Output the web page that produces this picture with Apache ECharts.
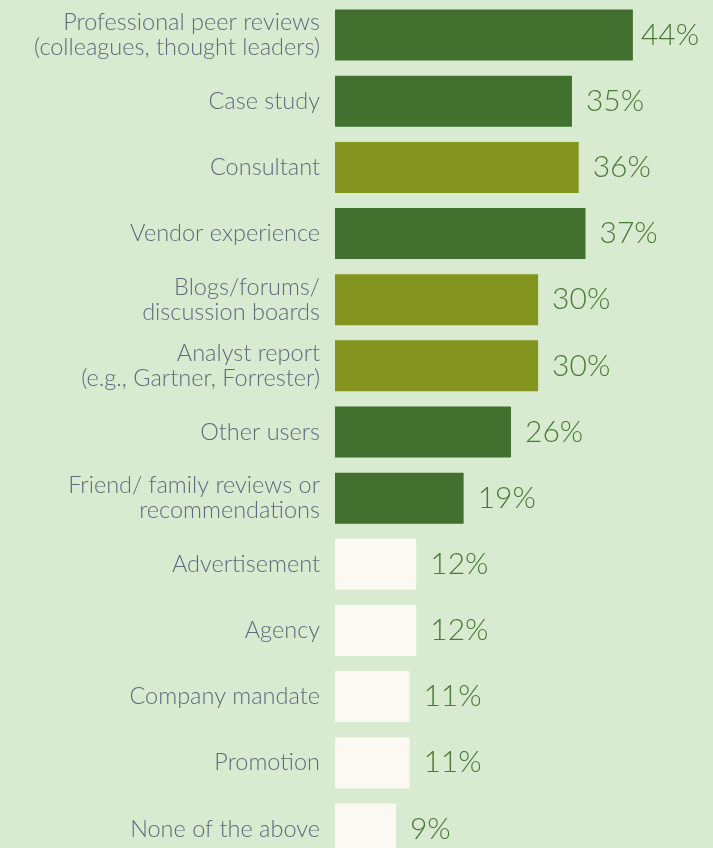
<!DOCTYPE html>
<html>
<head>
<meta charset="utf-8">
<script src="https://cdn.jsdelivr.net/npm/echarts@6/dist/echarts.min.js"></script>
<style>
  html, body { margin: 0; padding: 0; background: #d8ebd0; }
  #chart { width: 713px; height: 848px; }
</style>
</head>
<body>
<div id="chart"></div>
<script>
// data
var categories = [
  'Professional peer reviews\n(colleagues, thought leaders)',
  'Case study',
  'Consultant',
  'Vendor experience',
  'Blogs/forums/\ndiscussion boards',
  'Analyst report\n(e.g., Gartner, Forrester)',
  'Other users',
  'Friend/ family reviews or\nrecommendations',
  'Advertisement',
  'Agency',
  'Company mandate',
  'Promotion',
  'None of the above'
];
var values = [44, 35, 36, 37, 30, 30, 26, 19, 12, 12, 11, 11, 9];
// colour group per bar: d = dark green, o = olive, c = cream
var groups = ['d', 'd', 'o', 'd', 'o', 'o', 'd', 'd', 'c', 'c', 'c', 'c', 'c'];

var groupColor = { d: '#41702f', o: '#83951f', c: '#fcf9f3' };

var chart = echarts.init(document.getElementById('chart'), null, { renderer: 'canvas' });

var seriesData = values.map(function (v, i) {
  var item = { value: v, itemStyle: { color: groupColor[groups[i]] } };
  if (i === 0) item.label = { distance: 8 };
  return item;
});

chart.setOption({
  backgroundColor: '#d8ebd0',
  animation: false,
  grid: { left: 335, top: 2, width: 338.5, height: 860, outerBoundsMode: 'none' },
  xAxis: {
    type: 'value', min: 0, max: 50,
    show: false
  },
  yAxis: {
    type: 'category',
    data: categories,
    inverse: true,
    axisLine: { show: false },
    axisTick: { show: false },
    axisLabel: {
      margin: 15,
      color: '#5c6b7d',
      fontFamily: 'Lato',
      fontWeight: 300,
      fontSize: 23.5,
      lineHeight: 25,
      align: 'right'
    }
  },
  series: [{
    type: 'bar',
    data: seriesData,
    barWidth: 51,
    label: {
      show: true,
      position: 'right',
      distance: 14,
      formatter: '{c}%',
      color: '#4b7a39',
      fontFamily: 'Lato',
      fontWeight: 300,
      fontSize: 30
    }
  }]
});
</script>
</body>
</html>
